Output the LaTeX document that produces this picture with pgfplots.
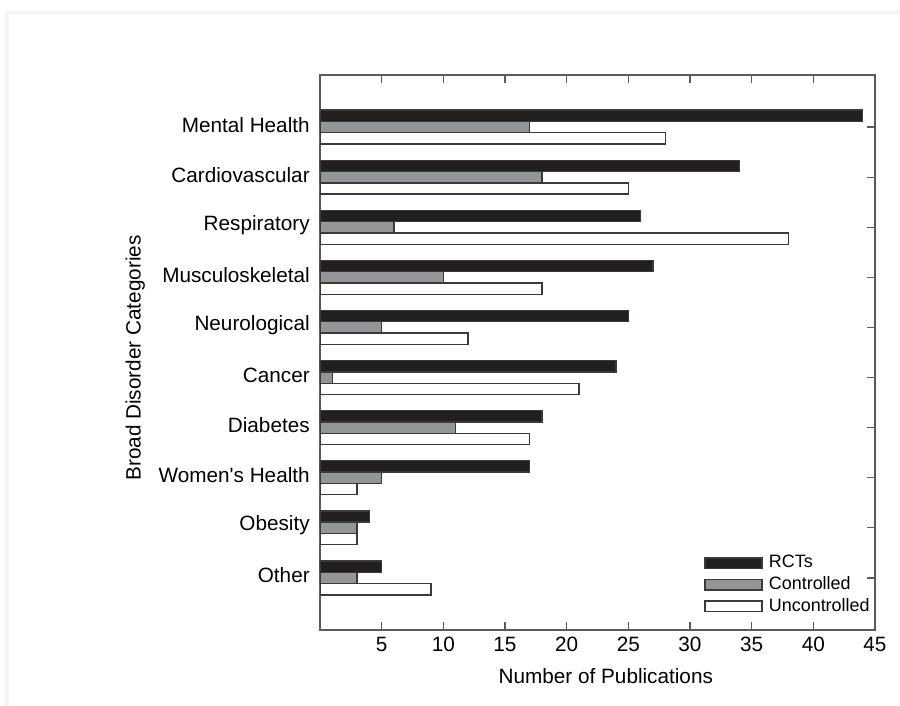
\documentclass[border=0pt]{standalone}
\usepackage{pgfplots}
\pgfplotsset{compat=1.18}
\usepackage{fontspec}
\setmainfont{Liberation Sans}
\definecolor{rct}{HTML}{231F20}
\definecolor{ctl}{HTML}{939598}
\definecolor{edge}{HTML}{3A3A3A}
\definecolor{axisgray}{HTML}{5A5A5A}
\definecolor{framec}{HTML}{F3F5F8}
\begin{document}
\fontsize{10.4}{12.5}\selectfont
\begin{tikzpicture}
\path[use as bounding box] (-160bp,-38bp) rectangle (290bp,315bp);
\draw[framec, line width=2bp] (-156.25bp,-38bp) -- (-156.25bp,308.5bp) -- (290bp,308.5bp);
\begin{axis}[
  at={(0,0)}, anchor=south west, scale only axis,
  width=277.5bp, height=277.5bp,
  xbar, bar width=0.226,
  xmin=0, xmax=45, ymin=-1.04, ymax=10.04,
  xtick={5,10,...,45},
  ytick={0,...,9},
  yticklabels={Other,Obesity,{Women\textquotesingle s Health},Diabetes,Cancer,Neurological,Musculoskeletal,Respiratory,Cardiovascular,Mental Health},
  ytick pos=right, yticklabel pos=left,
  xtick pos=both, xticklabel pos=lower,
  tick align=inside,
  major tick length=4bp,
  /pgf/number format/assume math mode=true,
  axis line style={axisgray, line width=0.7bp},
  every tick/.style={axisgray, line width=0.6bp},
  yticklabel style={xshift=-1.5bp, yshift=1.2bp},
  xlabel={Number of Publications},
  ylabel={Broad Disorder Categories},
  every axis x label/.style={at={(axis description cs:0.515,-0.083)}, anchor=center},
  every axis y label/.style={at={(axis description cs:-0.333,0.49)}, rotate=90, anchor=center},
  legend image code/.code={\draw[#1,/tikz/.cd] (0bp,-2.6bp) rectangle (28.5bp,2.6bp);},
  legend style={draw=none, fill=none, at={(0.681,0.018)}, anchor=south west,
    font=\fontsize{9}{10.8}\selectfont,
    nodes={inner sep=0.6bp}, row sep=1.6bp, column sep=2.5bp},
  legend cell align=left,
]
\addplot[fill=rct, draw=edge, line width=0.7bp, bar shift=0.226] coordinates {(5,0) (4,1) (17,2) (18,3) (24,4) (25,5) (27,6) (26,7) (34,8) (44,9)};
\addplot[fill=ctl, draw=edge, line width=0.7bp, bar shift=0] coordinates {(3,0) (3,1) (5,2) (11,3) (1,4) (5,5) (10,6) (6,7) (18,8) (17,9)};
\addplot[fill=white, draw=edge, line width=0.7bp, bar shift=-0.226] coordinates {(9,0) (3,1) (3,2) (17,3) (21,4) (12,5) (18,6) (38,7) (25,8) (28,9)};
\legend{RCTs,Controlled,Uncontrolled}
\end{axis}
\end{tikzpicture}
\end{document}
